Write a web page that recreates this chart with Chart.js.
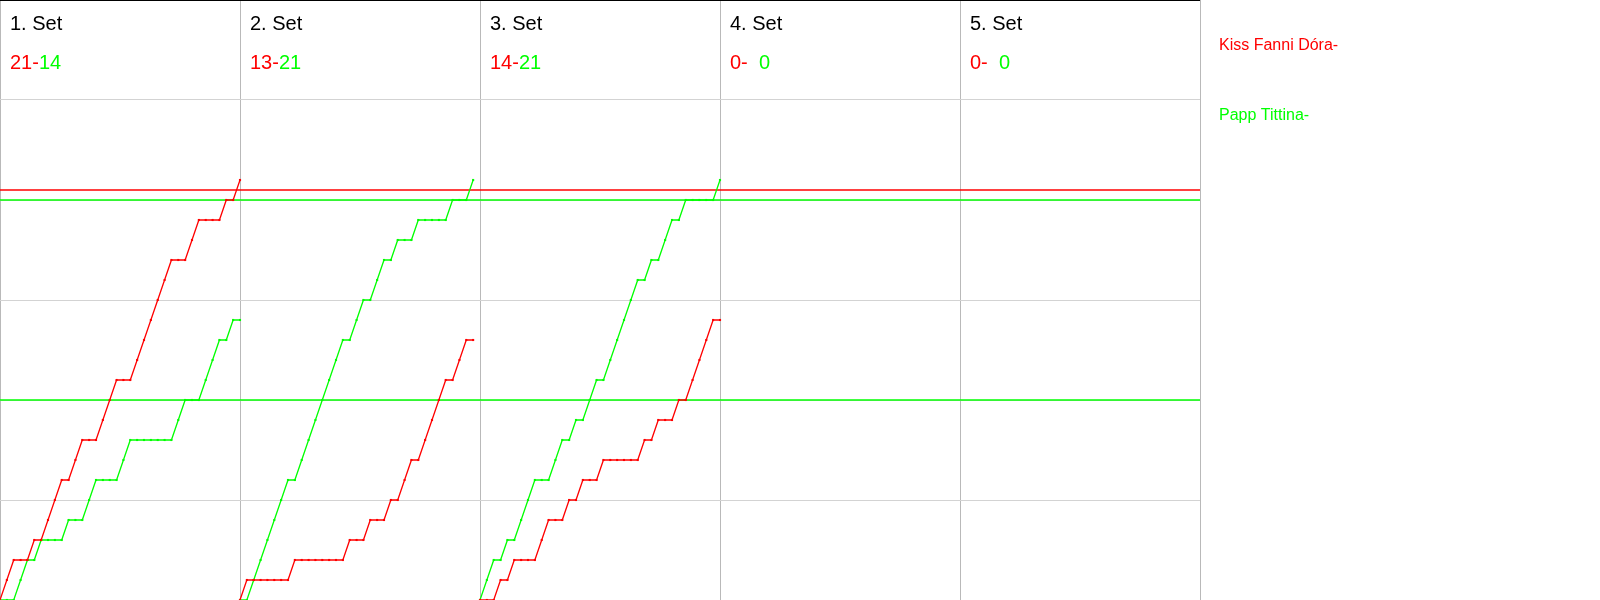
<!DOCTYPE html>
<html>
<head>
<meta charset="utf-8">
<title>Score progression</title>
<script src="https://cdn.jsdelivr.net/npm/chart.js@4.4.0/dist/chart.umd.min.js"></script>
<style>
  html, body { margin: 0; padding: 0; background: #fff; }
  #wrap { width: 1600px; height: 600px; }
</style>
</head>
<body>
<div id="wrap"><canvas id="chart" width="1600" height="600"></canvas></div>
<script>
// players and set headers
const playerNames = ["Kiss Fanni Dóra", "Papp Tittina"];
const setLabels = ["1. Set", "2. Set", "3. Set", "4. Set", "5. Set"];
const finalRed = [21, 13, 14, 0, 0];
const finalGreen = [14, 21, 21, 0, 0];

// running score after every rally (index 0 = 0:0)
const set1Red   = [0,1,2,2,2,3,3,4,5,6,6,7,8,8,8,9,10,11,11,11,12,13,14,15,16,17,17,17,18,19,19,19,19,20,20,21];
const set1Green = [0,0,0,1,2,2,3,3,3,3,4,4,4,5,6,6,6,6,7,8,8,8,8,8,8,8,9,10,10,10,11,12,13,13,14,14];
const set2Red   = [0,1,1,1,1,1,1,1,2,2,2,2,2,2,2,2,3,3,3,4,4,4,5,5,6,7,7,8,9,10,11,11,12,13,13];
const set2Green = [0,0,1,2,3,4,5,6,6,7,8,9,10,11,12,13,13,14,15,15,16,17,17,18,18,18,19,19,19,19,19,20,20,20,21];
const set3Red   = [0,0,0,1,1,2,2,2,2,3,4,4,4,5,5,6,6,6,7,7,7,7,7,7,8,8,9,9,9,10,10,11,12,13,14,14];
const set3Green = [0,1,2,2,3,3,4,5,6,6,6,7,8,8,9,9,10,11,11,12,13,14,15,16,16,17,17,18,19,19,20,20,20,20,20,21];
const set4Red   = [0];
const set4Green = [0];
const set5Red   = [0];
const set5Green = [0];

const redSets = [set1Red, set2Red, set3Red, set4Red, set5Red];
const greenSets = [set1Green, set2Green, set3Green, set4Green, set5Green];

// x axis: each set gets the same number of rally slots
const ralliesPerSet = 35;
const yMax = 30;
const yStep = 5;

// horizontal reference lines
const refRed = [20.5];
const refGreen = [20, 10];

const RED = "#ff0000";
const GREEN = "#00ff00";
const FONT = '"Liberation Sans", Arial, sans-serif';

function toPoints(scores, setIndex) {
  return scores.map((v, i) => ({ x: setIndex * ralliesPerSet + i, y: v }));
}

function scoreLine(scores, setIndex, color, order) {
  return {
    data: toPoints(scores, setIndex),
    borderColor: color,
    backgroundColor: color,
    borderWidth: 1.3,
    // an unplayed set has a single 0:0 point, nothing to show
    pointRadius: scores.length > 1 ? 1.5 : 0,
    pointStyle: "rect",
    pointBorderWidth: 0,
    pointBackgroundColor: color,
    tension: 0,
    order: order
  };
}

function refLine(value, color) {
  return {
    data: [{ x: 0, y: value }, { x: setLabels.length * ralliesPerSet, y: value }],
    borderColor: color,
    borderWidth: 1.4,
    pointRadius: 0,
    order: 3
  };
}

const datasets = [];
refRed.forEach(v => datasets.push(refLine(v, RED)));
refGreen.forEach(v => datasets.push(refLine(v, GREEN)));
greenSets.forEach((s, k) => datasets.push(scoreLine(s, k, GREEN, 2)));
redSets.forEach((s, k) => datasets.push(scoreLine(s, k, RED, 1)));

// set headers, set scores and player names
const textPlugin = {
  id: "setText",
  afterDraw(chart) {
    const ctx = chart.ctx;
    const xs = chart.scales.x;
    ctx.save();
    ctx.textBaseline = "alphabetic";
    ctx.textAlign = "left";
    ctx.font = "20px " + FONT;
    const gap = ctx.measureText("00-").width;
    setLabels.forEach((label, k) => {
      const x0 = xs.getPixelForValue(k * ralliesPerSet) + 10;
      ctx.fillStyle = "#000";
      ctx.fillText(label, x0, 30);
      ctx.fillStyle = RED;
      ctx.fillText(finalRed[k] + "-", x0, 69);
      ctx.fillStyle = GREEN;
      ctx.fillText(String(finalGreen[k]), x0 + gap, 69);
    });
    const nx = chart.chartArea.right + 19;
    ctx.font = "16px " + FONT;
    ctx.fillStyle = RED;
    ctx.fillText(playerNames[0] + "-", nx, 50);
    ctx.fillStyle = GREEN;
    ctx.fillText(playerNames[1] + "-", nx, 120);
    ctx.restore();
  }
};

new Chart(document.getElementById("chart").getContext("2d"), {
  type: "line",
  data: { datasets: datasets },
  options: {
    responsive: false,
    animation: false,
    layout: {
      autoPadding: false,
      padding: { left: 0, right: 400, top: 0, bottom: 0 }
    },
    plugins: {
      legend: { display: false },
      tooltip: { enabled: false }
    },
    scales: {
      x: {
        type: "linear",
        min: 0,
        max: setLabels.length * ralliesPerSet,
        afterBuildTicks: scale => {
          scale.ticks = setLabels.concat([""]).map((_, k) => ({ value: k * ralliesPerSet }));
        },
        ticks: { display: false },
        grid: { color: "#b9b9b9", drawTicks: false },
        border: { display: false }
      },
      y: {
        min: 0,
        max: yMax,
        ticks: { display: false, stepSize: yStep },
        grid: {
          color: c => (c.tick && c.tick.value === yMax ? "#000" : "#d3d3d3"),
          drawTicks: false
        },
        border: { display: false }
      }
    }
  },
  plugins: [textPlugin]
});
</script>
</body>
</html>
